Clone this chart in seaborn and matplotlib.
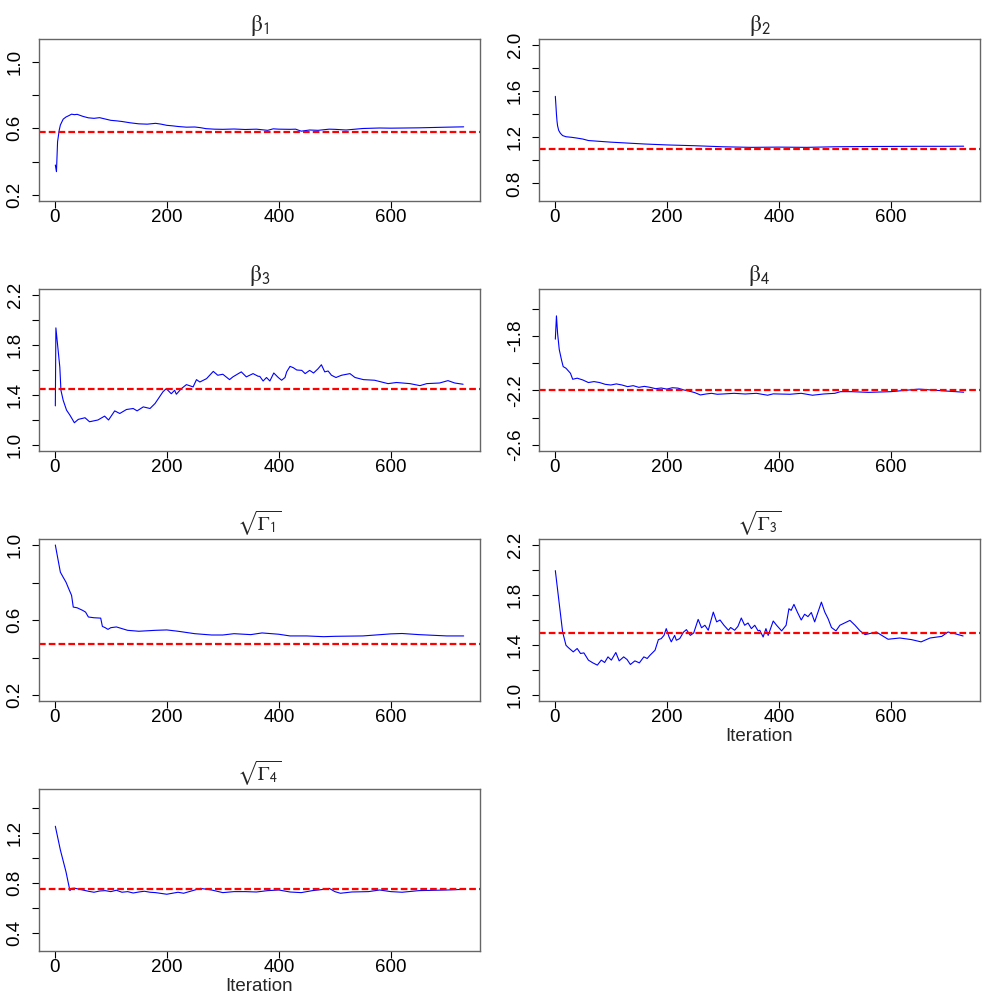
import matplotlib
matplotlib.use("Agg")
import matplotlib.pyplot as plt
import seaborn as sns
import numpy as np
import pandas as pd

# ---------------- data ----------------
b1_iter = [1, 3, 5, 8, 10, 15, 20, 25, 30, 35, 40, 50, 60, 70, 80, 90, 100, 110, 120, 135, 150, 165,
           180, 190, 200, 210, 220, 235, 250, 260, 270, 285, 300, 320, 340, 360, 380, 390, 400, 420,
           430, 440, 455, 470, 490, 500, 520, 550, 580, 600, 650, 700, 730]
b1_val = [0.38, 0.34, 0.52, 0.59, 0.62, 0.655, 0.668, 0.676, 0.685, 0.682, 0.684, 0.672, 0.663, 0.66,
          0.664, 0.656, 0.648, 0.645, 0.641, 0.633, 0.627, 0.625, 0.63, 0.625, 0.618, 0.615, 0.611,
          0.607, 0.608, 0.604, 0.598, 0.595, 0.594, 0.596, 0.593, 0.595, 0.588, 0.597, 0.595, 0.594,
          0.595, 0.583, 0.59, 0.588, 0.595, 0.594, 0.59, 0.599, 0.602, 0.601, 0.603, 0.607, 0.609]

b2_iter = [1, 2, 3, 4, 5, 7, 10, 14, 20, 30, 40, 50, 60, 80, 100, 130, 160, 200, 250, 300, 350, 400,
           450, 500, 550, 600, 650, 700, 730]
b2_val = [1.555, 1.48, 1.40, 1.34, 1.30, 1.26, 1.235, 1.215, 1.205, 1.2, 1.193, 1.185, 1.172, 1.165,
          1.158, 1.15, 1.142, 1.134, 1.127, 1.118, 1.113, 1.115, 1.113, 1.118, 1.12, 1.121, 1.122,
          1.122, 1.123]

b3_iter = [1, 2, 9, 11, 15, 21, 27, 35, 42, 54, 62, 77, 89, 96, 107, 116, 128, 140, 147, 158, 170,
           179, 187, 193, 199, 208, 214, 217, 226, 235, 247, 253, 259, 271, 283, 291, 300, 312, 318,
           333, 342, 354, 363, 366, 372, 378, 384, 391, 399, 405, 411, 414, 420, 426, 432, 441, 447,
           455, 462, 470, 476, 482, 488, 494, 502, 512, 527, 536, 551, 571, 595, 610, 634, 652, 664,
           687, 702, 714, 729]
b3_val = [1.313, 1.937, 1.623, 1.438, 1.358, 1.279, 1.239, 1.178, 1.205, 1.218, 1.186, 1.2, 1.231,
          1.2, 1.273, 1.252, 1.284, 1.292, 1.273, 1.305, 1.292, 1.332, 1.385, 1.425, 1.451, 1.41,
          1.438, 1.406, 1.451, 1.483, 1.465, 1.523, 1.504, 1.531, 1.589, 1.558, 1.566, 1.523, 1.545,
          1.585, 1.545, 1.571, 1.55, 1.549, 1.512, 1.54, 1.512, 1.576, 1.54, 1.518, 1.54, 1.585,
          1.629, 1.618, 1.6, 1.597, 1.571, 1.597, 1.576, 1.61, 1.642, 1.585, 1.592, 1.558, 1.54,
          1.558, 1.571, 1.54, 1.523, 1.518, 1.491, 1.5, 1.491, 1.475, 1.491, 1.496, 1.515, 1.496,
          1.486]

b4_iter = [1, 3, 5, 8, 12, 15, 20, 28, 32, 40, 50, 60, 70, 80, 90, 100, 110, 120, 130, 140, 150, 160,
           170, 180, 190, 200, 210, 220, 230, 240, 250, 260, 270, 280, 290, 300, 320, 340, 360, 380,
           390, 400, 420, 440, 460, 480, 500, 510, 530, 560, 600, 650, 680, 730]
b4_val = [-1.824, -1.653, -1.78, -1.90, -1.976, -2.025, -2.037, -2.074, -2.118, -2.11, -2.123,
          -2.142, -2.135, -2.142, -2.155, -2.16, -2.152, -2.16, -2.172, -2.165, -2.177, -2.17,
          -2.177, -2.187, -2.182, -2.19, -2.18, -2.183, -2.196, -2.205, -2.216, -2.233, -2.226,
          -2.221, -2.228, -2.226, -2.221, -2.226, -2.221, -2.235, -2.225, -2.226, -2.228, -2.221,
          -2.235, -2.226, -2.221, -2.209, -2.209, -2.214, -2.209, -2.19, -2.199, -2.213]

g1_iter = [1, 5, 10, 15, 20, 25, 30, 33, 40, 50, 55, 60, 70, 82, 85, 90, 95, 100, 110, 120, 130, 150,
           180, 200, 220, 250, 280, 300, 320, 350, 370, 400, 420, 450, 480, 500, 550, 600, 620, 650,
           700, 730]
g1_val = [1.0, 0.935, 0.855, 0.828, 0.802, 0.766, 0.731, 0.669, 0.665, 0.651, 0.642, 0.616, 0.612,
          0.61, 0.566, 0.559, 0.55, 0.559, 0.563, 0.554, 0.545, 0.54, 0.545, 0.547, 0.54, 0.527,
          0.52, 0.52, 0.527, 0.522, 0.531, 0.524, 0.515, 0.515, 0.511, 0.513, 0.515, 0.526, 0.528,
          0.522, 0.515, 0.515]

g3_iter = [1, 8, 14, 20, 24, 33, 40, 46, 52, 60, 68, 76, 83, 89, 95, 101, 109, 115, 123, 129, 135,
           143, 151, 159, 165, 170, 179, 185, 190, 195, 199, 204, 208, 214, 217, 223, 230, 235, 242,
           248, 256, 262, 268, 274, 283, 289, 295, 302, 310, 314, 321, 327, 333, 339, 345, 351, 357,
           363, 366, 372, 377, 381, 390, 396, 405, 413, 418, 422, 427, 433, 440, 446, 452, 458, 464,
           470, 476, 482, 488, 494, 502, 509, 527, 536, 545, 554, 574, 595, 616, 637, 654, 670, 691,
           702, 714, 729]
g3_val = [1.995, 1.73, 1.504, 1.398, 1.38, 1.345, 1.372, 1.332, 1.337, 1.279, 1.257, 1.239, 1.279,
          1.26, 1.305, 1.279, 1.34, 1.273, 1.305, 1.284, 1.244, 1.273, 1.257, 1.305, 1.292, 1.318,
          1.358, 1.443, 1.451, 1.477, 1.531, 1.465, 1.425, 1.477, 1.438, 1.451, 1.504, 1.523, 1.477,
          1.496, 1.605, 1.538, 1.558, 1.518, 1.663, 1.585, 1.6, 1.558, 1.518, 1.54, 1.518, 1.549,
          1.616, 1.558, 1.576, 1.531, 1.558, 1.513, 1.518, 1.464, 1.531, 1.477, 1.592, 1.558, 1.513,
          1.558, 1.69, 1.677, 1.725, 1.664, 1.6, 1.646, 1.627, 1.66, 1.585, 1.664, 1.743, 1.664,
          1.61, 1.54, 1.513, 1.558, 1.597, 1.558, 1.513, 1.483, 1.504, 1.446, 1.456, 1.443, 1.425,
          1.456, 1.469, 1.504, 1.491, 1.472]

g4_iter = [1, 10, 20, 27, 30, 35, 45, 50, 60, 70, 80, 90, 100, 110, 120, 130, 140, 150, 160, 170,
           180, 200, 210, 220, 230, 250, 260, 280, 300, 320, 340, 360, 380, 400, 420, 440, 460, 480,
           490, 500, 510, 530, 560, 580, 600, 620, 650, 700, 730]
g4_val = [1.25, 1.06, 0.886, 0.735, 0.753, 0.755, 0.745, 0.74, 0.73, 0.722, 0.732, 0.735, 0.727,
          0.738, 0.722, 0.727, 0.716, 0.724, 0.73, 0.722, 0.719, 0.706, 0.714, 0.722, 0.714, 0.74,
          0.753, 0.74, 0.719, 0.727, 0.727, 0.724, 0.735, 0.74, 0.724, 0.719, 0.735, 0.745, 0.753,
          0.727, 0.714, 0.724, 0.727, 0.74, 0.727, 0.722, 0.735, 0.74, 0.745]

true_vals = [0.58, 1.10, 1.45, -2.20, 0.47, 1.50, 0.75]
titles = [r'$\mathrm{β}_{\mathsf{1}}$', r'$\mathrm{β}_{\mathsf{2}}$', r'$\mathrm{β}_{\mathsf{3}}$',
          r'$\mathrm{β}_{\mathsf{4}}$', r'$\sqrt{\Gamma_{\mathsf{1}}}$', r'$\sqrt{\Gamma_{\mathsf{3}}}$',
          r'$\sqrt{\Gamma_{\mathsf{4}}}$']
title_sizes = [17, 17, 17, 17, 14, 14, 14]
y_limits = [(0.2, 1.1), (0.7, 2.0), (1.0, 2.2), (-2.6, -1.5), (0.2, 1.0), (1.0, 2.2), (0.3, 1.5)]
y_ticks = [[0.2, 0.4, 0.6, 0.8, 1.0],
           [0.8, 1.0, 1.2, 1.4, 1.6, 1.8, 2.0],
           [1.0, 1.2, 1.4, 1.6, 1.8, 2.0, 2.2],
           [-2.6, -2.4, -2.2, -2.0, -1.8, -1.6],
           [0.2, 0.4, 0.6, 0.8, 1.0],
           [1.0, 1.2, 1.4, 1.6, 1.8, 2.0, 2.2],
           [0.4, 0.6, 0.8, 1.0, 1.2, 1.4]]
y_ticklabels = [["0.2", "", "0.6", "", "1.0"],
                ["0.8", "", "1.2", "", "1.6", "", "2.0"],
                ["1.0", "", "1.4", "", "1.8", "", "2.2"],
                ["-2.6", "", "-2.2", "", "-1.8", ""],
                ["0.2", "", "0.6", "", "1.0"],
                ["1.0", "", "1.4", "", "1.8", "", "2.2"],
                ["0.4", "", "0.8", "", "1.2", ""]]
x_ticks = [0, 200, 400, 600]
x_label = "Iteration"

series = [(b1_iter, b1_val), (b2_iter, b2_val), (b3_iter, b3_val), (b4_iter, b4_val),
          (g1_iter, g1_val), (g3_iter, g3_val), (g4_iter, g4_val)]

# ---------------- style ----------------
sns.set_theme(style="ticks")
plt.rcParams['font.family'] = ['Liberation Sans', 'DejaVu Sans']
plt.rcParams['mathtext.fontset'] = 'stix'

fig = plt.figure(figsize=(10, 10), dpi=100)
col_left = [0.039, 0.539]
row_bottom = [0.799, 0.549, 0.299, 0.049]
w, h = 0.441, 0.162

for i, ((xs, ys), title) in enumerate(zip(series, titles)):
    r, c = divmod(i, 2)
    ax = fig.add_axes([col_left[c], row_bottom[r], w, h])
    df = pd.DataFrame({"iter": xs, "val": ys})
    sns.lineplot(data=df, x="iter", y="val", ax=ax, color="#0000FF", lw=0.8,
                 estimator=None, sort=False)
    ax.axhline(true_vals[i], color="#FF0000", lw=1.6, linestyle=(0, (3.0, 1.4)))
    lo, hi = y_limits[i]
    pad = 0.04 * (hi - lo)
    ax.set_ylim(lo - pad, hi + pad)
    ax.set_xlim(1 - 0.04 * 729, 730 + 0.04 * 729)
    ax.set_xticks(x_ticks)
    ax.set_xticklabels([str(t) for t in x_ticks])
    ax.set_yticks(y_ticks[i])
    ax.set_yticklabels(y_ticklabels[i], rotation=90, va="center")
    ax.tick_params(axis="both", direction="out", length=5, width=0.8, colors="black",
                   labelsize=13.5)
    ax.tick_params(axis="x", pad=1)
    ax.tick_params(axis="y", pad=6)
    for s in ax.spines.values():
        s.set_color("#666666")
        s.set_linewidth(1.0)
    ax.set_title(title, fontsize=title_sizes[i], pad=6)
    ax.set_ylabel("")
    if i in (5, 6):
        ax.set_xlabel(x_label, fontsize=13.5, labelpad=1)
    else:
        ax.set_xlabel("")

fig.savefig("out.png", dpi=100, facecolor="white")
